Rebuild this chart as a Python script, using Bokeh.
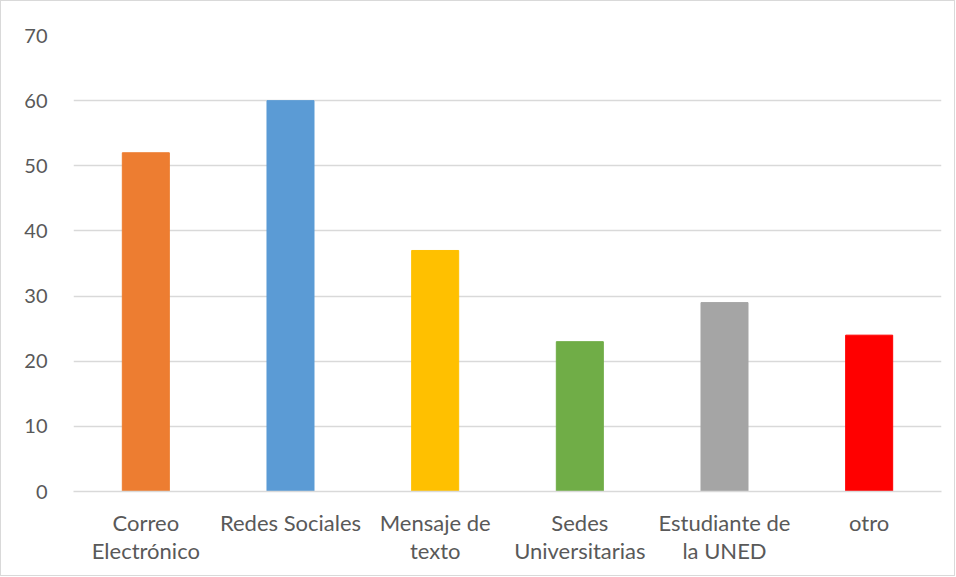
from bokeh.plotting import figure
from bokeh.models import (ColumnDataSource, Range1d, FactorRange, SingleIntervalTicker,
                          CategoricalAxis, CustomJSTickFormatter)
from bokeh.embed import file_html
from bokeh.resources import INLINE

categories = ["Correo Electrónico", "Redes Sociales", "Mensaje de texto",
              "Sedes Universitarias", "Estudiante de la UNED", "otro"]
labels_line1 = ["Correo", "Redes Sociales", "Mensaje de", "Sedes", "Estudiante de", "otro"]
labels_line2 = ["Electrónico", "", "texto", "Universitarias", "la UNED", ""]
values = [52, 60, 37, 23, 29, 24]
colors = ["#ED7D31", "#5B9BD5", "#FFC000", "#70AD47", "#A5A5A5", "#FF0000"]

src = ColumnDataSource(dict(cat=categories, val=values, color=colors))

p = figure(x_range=FactorRange(*categories), y_range=Range1d(0, 70),
           width=955, height=576, output_backend="svg", toolbar_location=None,
           min_border_left=72, min_border_right=15, min_border_top=34, min_border_bottom=86)
p.styles = {"border": "1px solid #d9d9d9"}
p.x_range.range_padding = 0
p.vbar(x="cat", top="val", width=0.325, color="color", source=src)

p.outline_line_color = None
p.xgrid.grid_line_color = None
p.ygrid.grid_line_color = "#d9d9d9"
p.ygrid.grid_line_width = 1.3
p.yaxis.ticker = SingleIntervalTicker(interval=10)
p.yaxis.axis_line_color = None
p.yaxis.major_tick_line_color = None
p.yaxis.minor_tick_line_color = None
p.yaxis.major_tick_out = 0
p.yaxis.major_label_text_font = "Lato"
p.yaxis.major_label_text_font_size = "20px"
p.yaxis.major_label_text_color = "#595959"
p.yaxis.major_label_standoff = 22

fmt_code = "return m[tick] !== undefined ? m[tick] : tick;"

ax1 = p.xaxis[0]
ax1.axis_line_color = "#d9d9d9"
ax1.axis_line_width = 1.3
ax1.major_tick_line_color = None
ax1.minor_tick_line_color = None
ax1.major_tick_out = 0
ax1.formatter = CustomJSTickFormatter(args=dict(m=dict(zip(categories, labels_line1))), code=fmt_code)
ax1.major_label_text_font = "Lato"
ax1.major_label_text_font_size = "22px"
ax1.major_label_text_color = "#595959"
ax1.major_label_standoff = 17

ax2 = CategoricalAxis()
ax2.axis_line_color = None
ax2.major_tick_line_color = None
ax2.minor_tick_line_color = None
ax2.major_tick_out = 0
ax2.formatter = CustomJSTickFormatter(args=dict(m=dict(zip(categories, labels_line2))), code=fmt_code)
ax2.major_label_text_font = "Lato"
ax2.major_label_text_font_size = "22px"
ax2.major_label_text_color = "#595959"
ax2.major_label_standoff = -2
p.add_layout(ax2, "below")

open("out.html", "w").write(file_html(p, INLINE))
